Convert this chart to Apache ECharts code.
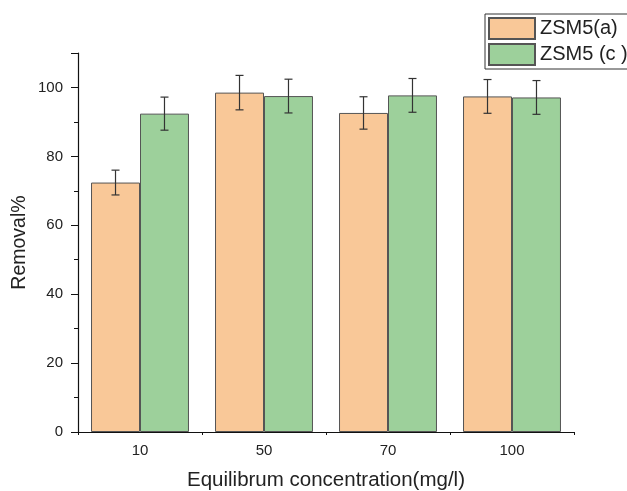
<!DOCTYPE html>
<html>
<head>
<meta charset="utf-8">
<script src="https://cdn.jsdelivr.net/npm/echarts@6/dist/echarts.min.js"></script>
<style>
  html, body { margin: 0; padding: 0; background: #fff; }
  #chart { width: 627px; height: 491px; }
</style>
</head>
<body>
<div id="chart"></div>
<script>
const categories = ["10", "50", "70", "100"];
const zsmA = [72.4, 98.5, 92.6, 97.4];
const zsmAErr = [3.6, 5.0, 4.7, 4.9];
const zsmC = [92.4, 97.5, 97.7, 97.1];
const zsmCErr = [4.8, 4.9, 4.9, 4.9];
const yTicks = [0, 20, 40, 60, 80, 100];

const font = "Liberation Sans";

// error bar drawn from value +/- err, through the axis scales
function errorSeries(vals, errs, idx) {
  return {
    type: "custom",
    name: "err" + idx,
    z: 10,
    data: vals.map((v, i) => [i, v - errs[i], v + errs[i]]),
    renderItem: function (params, api) {
      const lo = api.coord([api.value(0), api.value(1)]);
      const hi = api.coord([api.value(0), api.value(2)]);
      const band = api.size([1, 0])[0];
      const barW = band * 0.395;
      const x = lo[0] + (idx === 0 ? -barW / 2 : barW / 2);
      const cap = 4;
      const st = { stroke: "#333", lineWidth: 1.2 };
      return {
        type: "group",
        children: [
          { type: "line", shape: { x1: x, y1: lo[1], x2: x, y2: hi[1] }, style: st },
          { type: "line", shape: { x1: x - cap, y1: hi[1], x2: x + cap, y2: hi[1] }, style: st },
          { type: "line", shape: { x1: x - cap, y1: lo[1], x2: x + cap, y2: lo[1] }, style: st }
        ]
      };
    }
  };
}

const chart = echarts.init(document.getElementById("chart"));
chart.setOption({
  animation: false,
  textStyle: { fontFamily: font },
  grid: { left: 78, right: 53, top: 53, bottom: 59, containLabel: false, outerBoundsMode: "none" },
  legend: {
    data: ["ZSM5(a)", "ZSM5 (c )"],
    icon: "rect",
    orient: "vertical",
    left: 485,
    top: 14,
    padding: [3, 60, 3, 3],
    itemGap: 3,
    itemWidth: 46,
    itemHeight: 21,
    borderColor: "#333",
    borderWidth: 1,
    textStyle: { fontSize: 20, color: "#222", fontFamily: font }
  },
  xAxis: [
    {
      type: "category",
      data: categories,
      name: "Equilibrum concentration(mg/l)",
      nameLocation: "middle",
      nameGap: 38,
      nameMoveOverlap: false,
      nameTextStyle: { fontSize: 20.5, color: "#222" },
      axisLine: { lineStyle: { color: "#111", width: 1.2 } },
      axisTick: { alignWithLabel: true, length: 5, lineStyle: { color: "#111" } },
      axisLabel: { fontSize: 15, color: "#222", margin: 11 }
    },
    {
      type: "value",
      position: "bottom",
      min: 0,
      max: 4,
      interval: 1,
      axisLine: { show: false },
      axisTick: { show: true, length: 3, lineStyle: { color: "#111" } },
      axisLabel: { show: false },
      splitLine: { show: false }
    }
  ],
  yAxis: {
    type: "value",
    min: 0,
    max: 110,
    interval: 20,
    name: "Removal%",
    nameLocation: "middle",
    nameGap: 48,
    nameMoveOverlap: false,
    nameTextStyle: { fontSize: 19.5, color: "#222" },
    axisLine: { show: true, lineStyle: { color: "#111", width: 1.2 } },
    axisTick: { show: true, length: 7, lineStyle: { color: "#111" } },
    minorTick: { show: true, splitNumber: 2, length: 4, lineStyle: { color: "#111" } },
    axisLabel: {
      fontSize: 15, color: "#222", margin: 15,
      formatter: v => (yTicks.indexOf(v) >= 0 ? String(v) : "")
    },
    splitLine: { show: false }
  },
  series: [
    {
      name: "ZSM5(a)",
      type: "bar",
      data: zsmA,
      barWidth: "39.5%",
      barGap: "0%",
      itemStyle: { color: "#F9C898", borderColor: "#555", borderWidth: 1 }
    },
    {
      name: "ZSM5 (c )",
      type: "bar",
      data: zsmC,
      barWidth: "39.5%",
      barGap: "0%",
      itemStyle: { color: "#9DD09B", borderColor: "#555", borderWidth: 1 }
    },
    errorSeries(zsmA, zsmAErr, 0),
    errorSeries(zsmC, zsmCErr, 1)
  ]
});
</script>
</body>
</html>
